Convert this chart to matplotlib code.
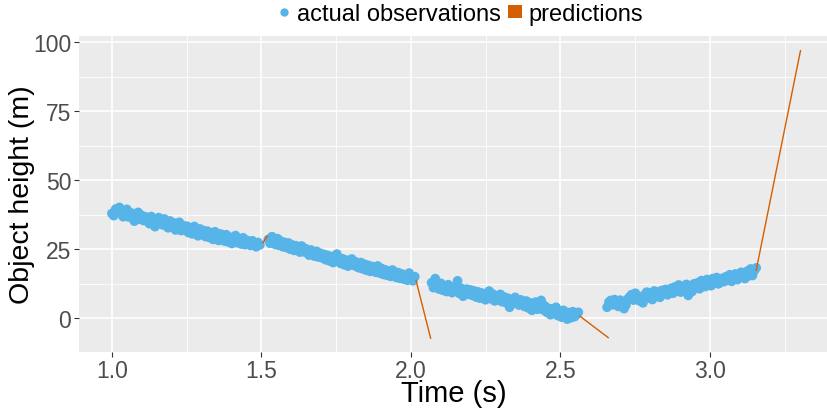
import numpy as np
import matplotlib
matplotlib.use("Agg")
import matplotlib.pyplot as plt
from matplotlib.lines import Line2D
from matplotlib.patches import Patch

plt.rcParams['font.family'] = ['Liberation Sans', 'DejaVu Sans']

# ---- data ----
seg1_range = (1.000, 1.495)
seg1_height = [38.0, 37.2, 39.6, 38.6, 40.2, 39.0, 36.8, 38.4, 39.5, 36.7,
               38.3, 37.0, 35.2, 37.6, 38.4, 35.9, 37.3, 35.4, 36.8, 36.0,
               34.3, 36.9, 35.8, 33.2, 35.4, 36.5, 34.6, 33.9, 36.0, 33.5,
               32.8, 35.3, 33.4, 34.6, 32.0, 33.3, 34.8, 31.8, 33.6, 31.9,
               33.4, 31.0, 32.6, 30.6, 33.3, 30.9, 29.9, 32.4, 30.6, 31.8,
               29.6, 31.6, 29.3, 30.9, 28.6, 31.4, 29.4, 28.2, 30.6, 29.2,
               28.0, 30.3, 27.7, 29.4, 27.1, 28.9, 30.0, 27.4, 28.4, 26.9,
               29.2, 26.7, 28.3, 27.4, 26.4, 28.1, 26.8, 25.9, 27.5, 26.6]

seg2_range = (1.523, 2.013)
seg2_height = [28.6, 27.2, 29.6, 27.9, 26.7, 28.9, 26.4, 27.9, 25.9, 27.5,
               25.6, 27.3, 25.0, 26.6, 24.6, 26.3, 25.4, 24.0, 26.2, 24.1,
               25.3, 23.7, 22.9, 24.8, 23.6, 22.5, 24.3, 22.2, 23.6, 21.9,
               23.2, 21.2, 22.8, 20.8, 22.4, 20.2, 21.9, 23.3, 20.7, 19.9,
               21.6, 19.4, 21.1, 18.9, 20.8, 21.5, 19.2, 20.5, 18.6, 18.3,
               20.2, 17.9, 19.6, 17.4, 19.2, 17.0, 18.8, 18.1, 16.7, 19.0,
               16.4, 18.1, 15.9, 17.6, 15.6, 17.1, 15.2, 17.5, 15.6, 14.8,
               16.6, 14.5, 16.1, 14.2, 15.7, 13.8, 16.4, 14.7, 13.6, 15.1]

seg3_range = (2.069, 2.560)
seg3_height = [12.9, 11.1, 14.4, 12.3, 10.6, 12.7, 10.2, 11.8, 9.7, 12.2,
               11.0, 9.3, 11.5, 10.1, 13.6, 9.0, 10.9, 8.0, 10.1, 10.6,
               8.7, 10.3, 8.3, 9.9, 7.7, 9.6, 7.3, 9.2, 8.4, 6.7,
               8.1, 9.9, 7.1, 8.8, 6.3, 8.1, 6.6, 8.7, 6.0, 7.8,
               5.7, 7.3, 4.0, 6.8, 5.5, 7.6, 5.6, 4.8, 6.7, 5.2,
               4.3, 6.3, 3.8, 5.6, 2.9, 5.0, 5.9, 3.3, 4.5, 6.5,
               3.1, 4.5, 2.2, 3.6, 1.3, 3.4, 1.8, 4.0, 1.0, 2.5,
               0.4, 2.9, 0.8, -0.3, 2.1, 0.2, 2.4, 0.6, 1.4, 2.2]

seg4_range = (2.656, 3.155)
seg4_height = [4.0, 5.9, 6.5, 4.9, 6.8, 5.5, 4.3, 6.6, 5.2, 3.5,
               4.8, 7.0, 7.8, 8.6, 6.6, 9.1, 7.6, 6.4, 7.9, 5.6,
               8.5, 9.5, 7.3, 9.2, 6.8, 9.9, 8.2, 9.6, 7.6, 10.1,
               9.0, 10.5, 8.5, 10.2, 10.9, 9.1, 11.4, 9.9, 12.1, 9.5,
               11.4, 10.2, 12.3, 8.3, 11.8, 9.7, 12.5, 11.1, 12.9, 10.7,
               13.7, 12.2, 11.5, 14.1, 12.4, 11.8, 14.4, 12.6, 14.8, 12.5,
               13.0, 14.5, 13.3, 15.1, 13.8, 15.8, 13.4, 15.4, 16.1, 14.0,
               15.6, 16.7, 15.0, 14.4, 17.0, 15.4, 17.9, 15.5, 17.3, 18.3]

# prediction segments: (time start, time end), (height start, height end)
pred_time = [(1.505, 1.520), (2.017, 2.066), (2.565, 2.660), (3.155, 3.303)]
pred_height = [(27.4, 29.8), (13.8, -7.2), (0.8, -7.0), (17.5, 97.0)]

x_ticks = [1.0, 1.5, 2.0, 2.5, 3.0]
x_tick_labels = ["1.0", "1.5", "2.0", "2.5", "3.0"]
y_ticks = [0, 25, 50, 75, 100]
y_tick_labels = ["0", "25", "50", "75", "100"]

# ---- styling ----
BLUE = "#56B4E9"
ORANGE = "#D55E00"
PANEL = "#EBEBEB"

fig = plt.figure(figsize=(8.28, 4.10), dpi=100)
ax = fig.add_axes([79 / 828, 57 / 410, 749 / 828, 316 / 410])
ax.set_facecolor(PANEL)
for s in ax.spines.values():
    s.set_visible(False)

segments = [(seg1_range, seg1_height), (seg2_range, seg2_height),
            (seg3_range, seg3_height), (seg4_range, seg4_height)]
for (t0, t1), h in segments:
    t = np.linspace(t0, t1, len(h))
    ax.scatter(t, h, s=48, color=BLUE, edgecolors='none', zorder=3)

for (t0, t1), (h0, h1) in zip(pred_time, pred_height):
    ax.plot([t0, t1], [h0, h1], color=ORANGE, lw=1.0, zorder=4)

ax.set_xlim(0.89, 3.395)
ax.set_ylim(-12.2, 102.3)
ax.set_xticks(x_ticks)
ax.set_xticklabels(x_tick_labels)
ax.set_yticks(y_ticks)
ax.set_yticklabels(y_tick_labels)
ax.set_xticks([1.25, 1.75, 2.25, 2.75, 3.25], minor=True)
ax.set_yticks([12.5, 37.5, 62.5, 87.5], minor=True)
ax.grid(which='major', color='white', lw=1.2, zorder=0)
ax.grid(which='minor', color='white', lw=0.6, zorder=0)
ax.set_axisbelow(True)
ax.tick_params(which='major', length=3.5, width=0.8, color='#333333',
               labelsize=16.5, labelcolor='#4D4D4D', pad=2)
ax.tick_params(axis='x', which='major', pad=1.5)
ax.tick_params(which='minor', length=0)

ax.set_xlabel("Time (s)", fontsize=21, color='black', labelpad=-2)
ax.set_ylabel("Object height (m)", fontsize=20.5, color='black', labelpad=-1.5)

handles = [Line2D([0], [0], marker='o', linestyle='none', markersize=6,
                  markerfacecolor=BLUE, markeredgecolor='none'),
           Patch(facecolor=ORANGE, edgecolor='none')]
leg = fig.legend(handles, ["actual observations", "predictions"],
                 loc='center', bbox_to_anchor=(460 / 828, 1 - 15 / 410),
                 ncol=2, frameon=False, fontsize=17, handlelength=0.6,
                 handleheight=0.5, handletextpad=0.25, columnspacing=0.3,
                 borderpad=0)

fig.savefig("out.png", dpi=100)
